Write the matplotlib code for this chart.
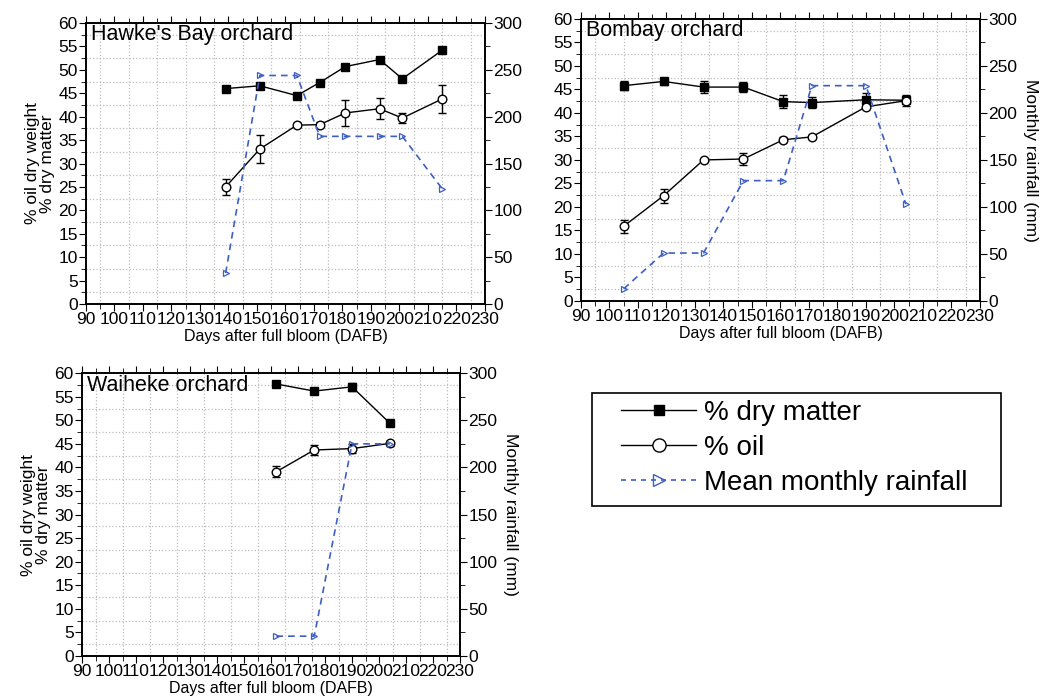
import matplotlib
matplotlib.use("Agg")
import matplotlib.pyplot as plt
from matplotlib.ticker import MultipleLocator
from matplotlib.lines import Line2D
from matplotlib.patches import Rectangle

plt.rcParams['font.family'] = ['Liberation Sans', 'DejaVu Sans']

# Hawke's Bay orchard
hb_days = [139, 151, 164, 172, 181, 193, 201, 215]
hb_dm = [46.0, 46.6, 44.5, 47.3, 50.7, 52.2, 48.1, 54.2]
hb_dm_err = [0.3, 0.3, 0.3, 0.3, 0.3, 0.3, 0.3, 0.4]
hb_oil = [25.0, 33.1, 38.2, 38.3, 40.8, 41.7, 39.7, 43.8]
hb_oil_err = [1.8, 2.9, 0.5, 0.5, 2.7, 2.3, 1.0, 3.0]
hb_rain = [33, 244, 244, 179, 179, 179, 179, 123]

# Bombay orchard
bo_days = [105, 119, 133, 147, 161, 171, 190, 204]
bo_dm = [45.8, 46.7, 45.5, 45.5, 42.4, 42.2, 42.8, 42.7]
bo_dm_err = [0.9, 0.8, 1.2, 1.0, 1.4, 1.2, 1.4, 0.4]
bo_oil = [15.9, 22.4, 30.0, 30.2, 34.3, 34.9, 41.3, 42.6]
bo_oil_err = [1.4, 1.5, 0.3, 1.2, 0.5, 0.4, 0.4, 1.2]
bo_rain = [13, 51, 51, 128, 128, 229, 229, 103]

# Waiheke orchard
wa_days = [162, 176, 190, 204]
wa_dm = [57.7, 56.2, 57.1, 49.4]
wa_dm_err = [0.4, 0.4, 0.8, 0.4]
wa_oil = [39.1, 43.7, 44.0, 45.1]
wa_oil_err = [1.2, 1.1, 1.0, 0.5]
wa_rain = [21, 21, 225, 225]

rain_color = '#3d5fc4'
fs_tick = 12.5


def panel(rect, days, dm, dm_err, oil, oil_err, rain, title, left_label, right_label):
    ax = fig.add_axes(rect)
    ax.set_xlim(90, 230)
    ax.set_ylim(0, 60)
    ax.xaxis.set_major_locator(MultipleLocator(10))
    ax.xaxis.set_minor_locator(MultipleLocator(5))
    ax.yaxis.set_major_locator(MultipleLocator(5))
    ax.yaxis.set_minor_locator(MultipleLocator(2.5))
    ax.grid(which='minor', color='#bdbdbd', linestyle=':', linewidth=0.9)
    ax.tick_params(which='both', direction='out', top=True, labelsize=fs_tick, pad=1)
    ax.tick_params(which='major', length=5)
    ax.tick_params(which='minor', length=3.5)
    for s in ax.spines.values():
        s.set_linewidth(1.2)

    ax.errorbar(days, dm, yerr=dm_err, color='black', lw=1, marker='s', ms=5.2,
                mfc='black', mec='black', capsize=2.6, elinewidth=1, zorder=3)
    ax.errorbar(days, oil, yerr=oil_err, color='black', lw=1, marker='o', ms=6.2,
                mfc='white', mec='black', mew=1, capsize=2.6, elinewidth=1, zorder=4)

    ax.text(0.012, 0.995, title, transform=ax.transAxes, ha='left', va='top', fontsize=15.5)
    ax.set_xlabel('Days after full bloom (DAFB)', fontsize=11.5, labelpad=1)
    if left_label:
        ax.set_ylabel('% oil dry weight\n% dry matter', fontsize=12.5, labelpad=2,
                      linespacing=1.0)

    ax2 = ax.twinx()
    ax2.set_ylim(0, 300)
    ax2.yaxis.set_major_locator(MultipleLocator(50))
    ax2.yaxis.set_minor_locator(MultipleLocator(25))
    ax2.tick_params(which='both', direction='out', labelsize=fs_tick, pad=1)
    ax2.tick_params(which='major', length=5)
    ax2.tick_params(which='minor', length=3.5)
    for s in ax2.spines.values():
        s.set_linewidth(1.2)
    ax2.plot(days, rain, color=rain_color, lw=1.2, linestyle=(0, (4, 3)),
             marker='>', ms=5, mfc='none', mec=rain_color, mew=0.9)
    if right_label:
        ax2.set_ylabel('Monthly rainfall (mm)', fontsize=12.5, rotation=270, labelpad=15)
    return ax


fig = plt.figure(figsize=(10.5, 7), dpi=100)

panel([0.0819, 0.5657, 0.380, 0.4014], hb_days, hb_dm, hb_dm_err, hb_oil, hb_oil_err,
      hb_rain, "Hawke's Bay orchard", True, False)
panel([0.5533, 0.570, 0.380, 0.403], bo_days, bo_dm, bo_dm_err, bo_oil, bo_oil_err,
      bo_rain, 'Bombay orchard', False, True)
panel([0.0781, 0.0629, 0.360, 0.404], wa_days, wa_dm, wa_dm_err, wa_oil, wa_oil_err,
      wa_rain, 'Waiheke orchard', True, True)

# legend frame drawn separately so the entries can sit with a wider left margin
fig.patches.append(Rectangle((592 / 1050, 1 - 506 / 700), 409 / 1050, 113 / 700,
                             transform=fig.transFigure, fill=False, edgecolor='black',
                             linewidth=1.2))
handles = [
    Line2D([], [], color='black', lw=1, marker='s', ms=7.5, mfc='black'),
    Line2D([], [], color='black', lw=1, marker='o', ms=9.5, mfc='white', mec='black'),
    Line2D([], [], color=rain_color, lw=1.2, linestyle=(0, (3, 3)), marker='>', ms=9,
           mfc='none', mec=rain_color),
]
fig.legend(handles, ['% dry matter', '% oil', 'Mean monthly rainfall'],
           loc='upper left', bbox_to_anchor=(621 / 1050, 1 - 400 / 700), fontsize=20,
           frameon=False, borderaxespad=0, borderpad=0,
           handlelength=2.7, handletextpad=0.3, labelspacing=0.32)

fig.savefig('out.png', dpi=100)
